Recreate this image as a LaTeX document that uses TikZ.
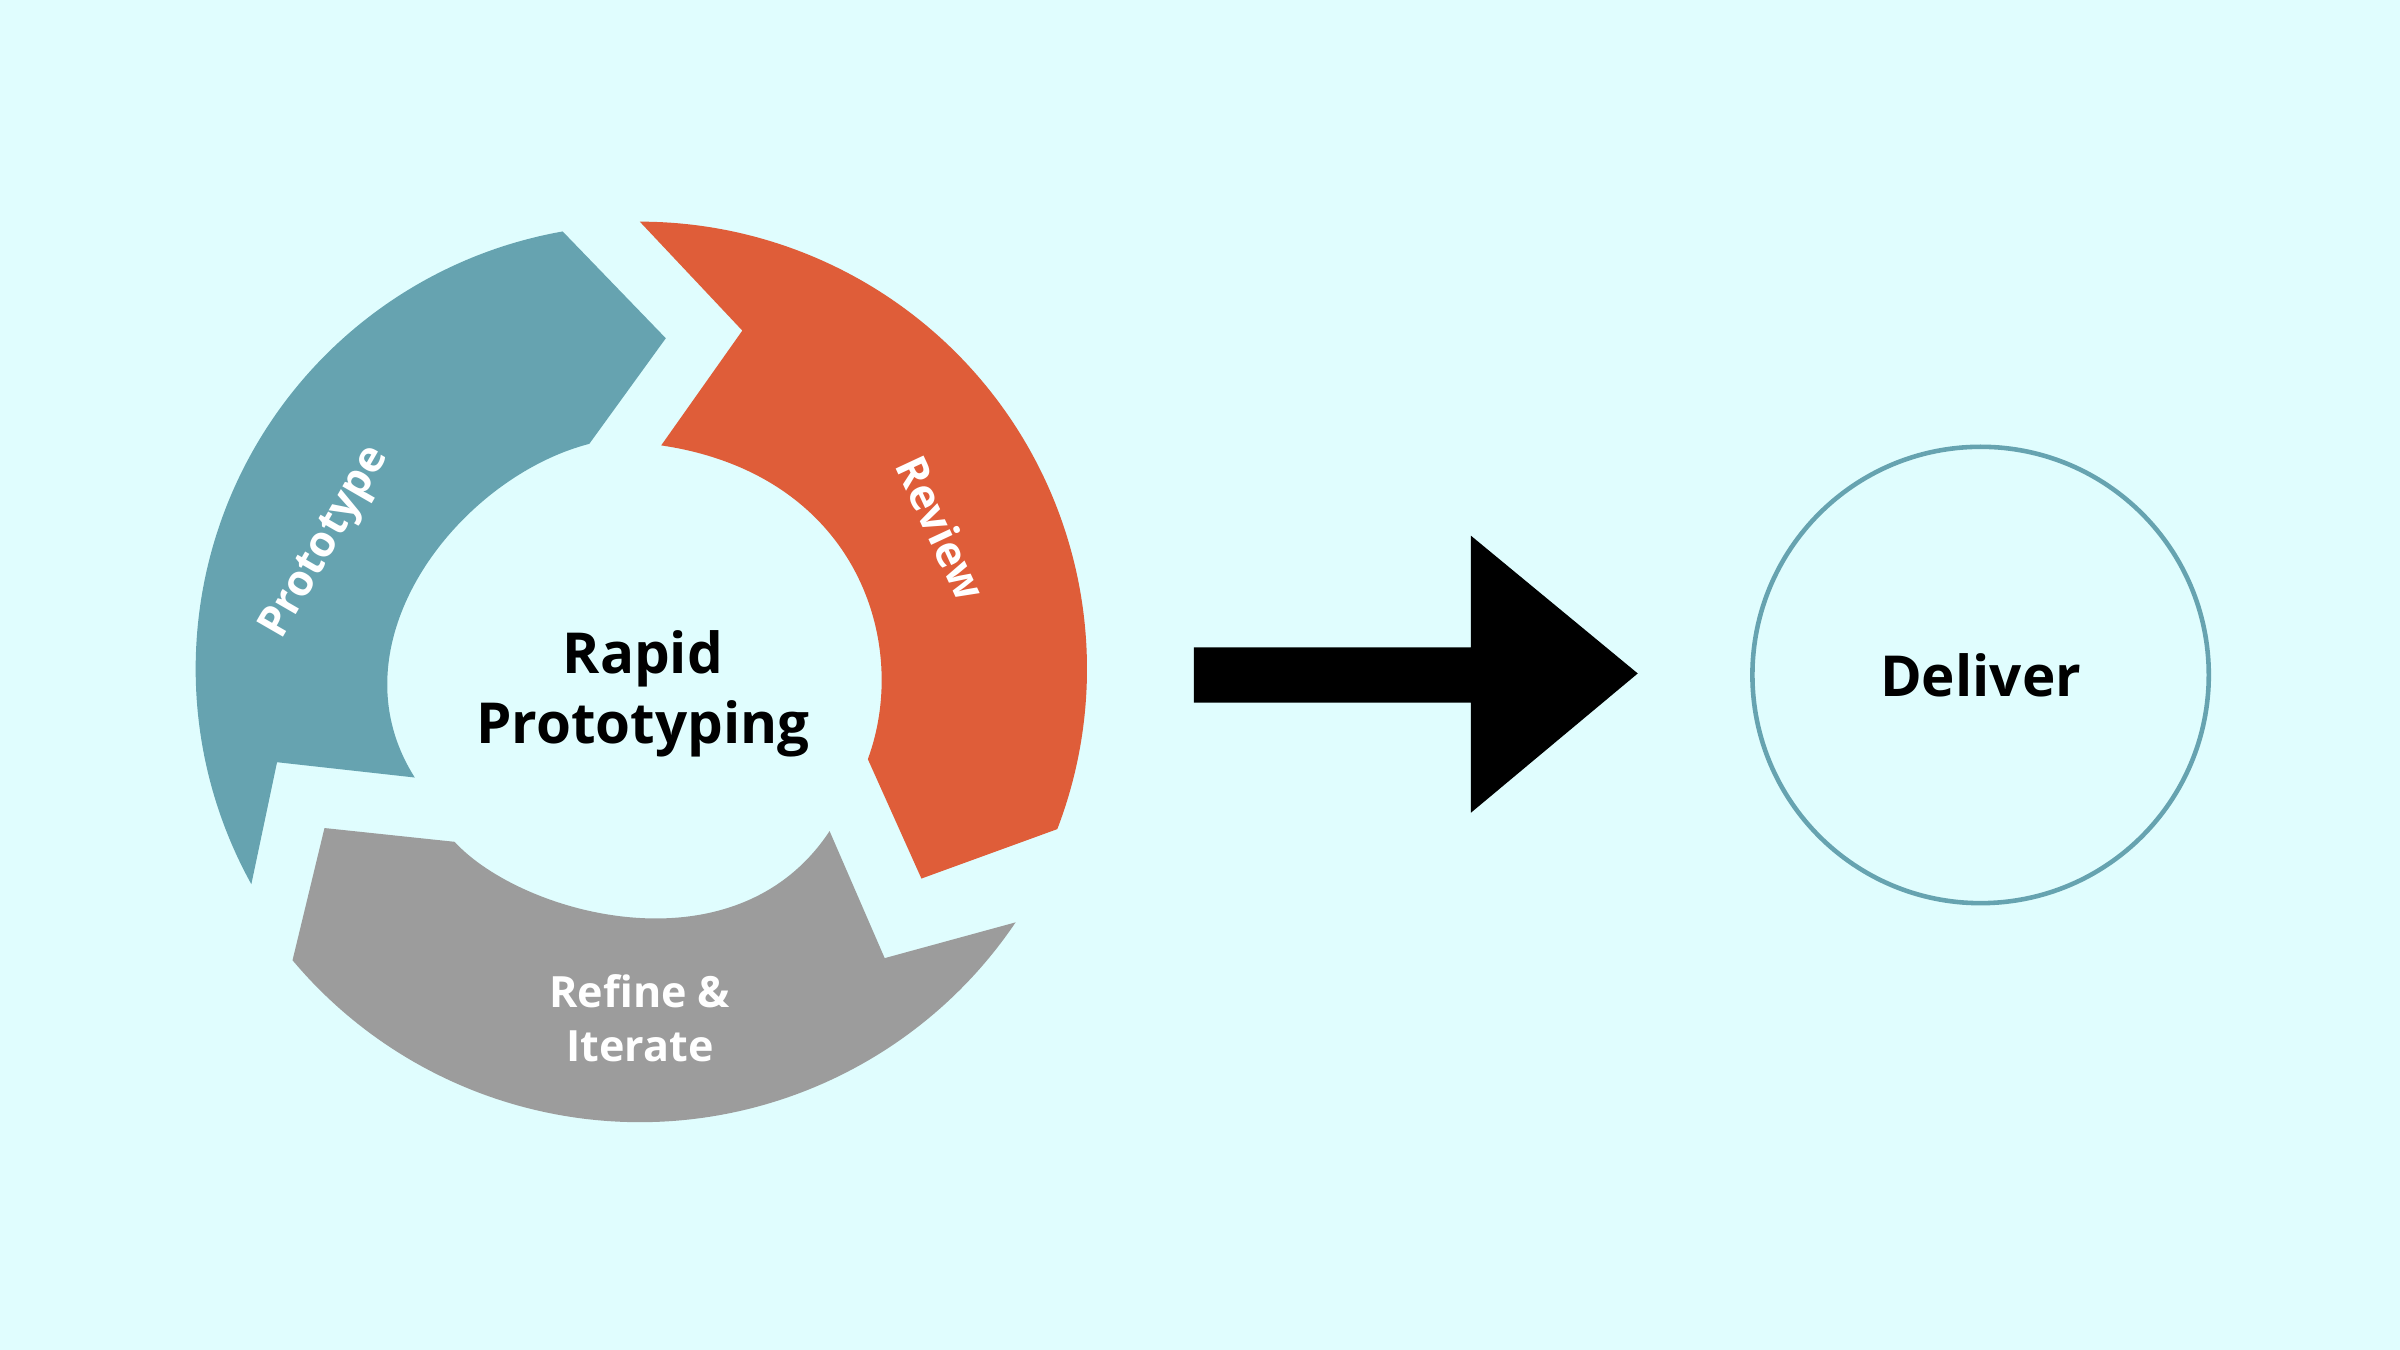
\documentclass[tikz,border=0pt]{standalone}
\usepackage{fontspec}
\setmainfont{Open Sans}
\definecolor{bg}{HTML}{E0FDFE}
\definecolor{teal}{HTML}{66A3B0}
\definecolor{orng}{HTML}{DF5D39}
\definecolor{gry}{HTML}{9C9C9C}
\begin{document}
\begin{tikzpicture}[x=0.01cm,y=0.01cm,
  wlab/.style={text=white,font=\fontsize{8}{10}\selectfont\bfseries,align=center},
  blab/.style={text=black,font=\fontsize{10.5}{13}\selectfont\bfseries,align=center}]
\fill[bg] (0,0) rectangle (1568,882);
\useasboundingbox (0,0) rectangle (1568,882);
% Prototype
\fill[teal] ([shift={(418,445)}]209:2.9cm) arc[start angle=209,end angle=100,radius=2.9cm] -- (435,661) -- (385,592) .. controls (300,570) and (215,462) .. (271,374) -- (181,384) -- cycle;
% Review
\fill[orng] ([shift={(418,445)}]-21:2.92cm) arc[start angle=-21,end angle=90,radius=2.92cm] -- (485,666) -- (432,591) .. controls (560,572) and (595,462) .. (567,386) -- (602,308) -- cycle;
% Refine
\fill[gry] ([shift={(418,445)}]-34:2.96cm) arc[start angle=-34,end angle=-140,radius=2.96cm] -- (212,341) -- (297,332) .. controls (340,285) and (480,245) .. (542,339) -- (578,256) -- cycle;
\node[blab] (rp) at (420,429) {Rapid\\Prototyping};
\node[wlab,rotate=60] (pt) at (213,527) {Prototype};
\node[wlab,rotate=-65] (rv) at (615,537) {Review};
\node[wlab] (ri) at (418,217) {Refine \&\\Iterate};
% arrow
\fill[black] (780,423) -- (961,423) -- (961,351) -- (1070,442) -- (961,532) -- (961,459) -- (780,459) -- cycle;
\node[draw=teal,line width=0.85pt,circle,minimum size=2.98cm,inner sep=0] (dl) at (1294,441) {};
\node[blab] at (dl) {Deliver};
\end{tikzpicture}
\end{document}
